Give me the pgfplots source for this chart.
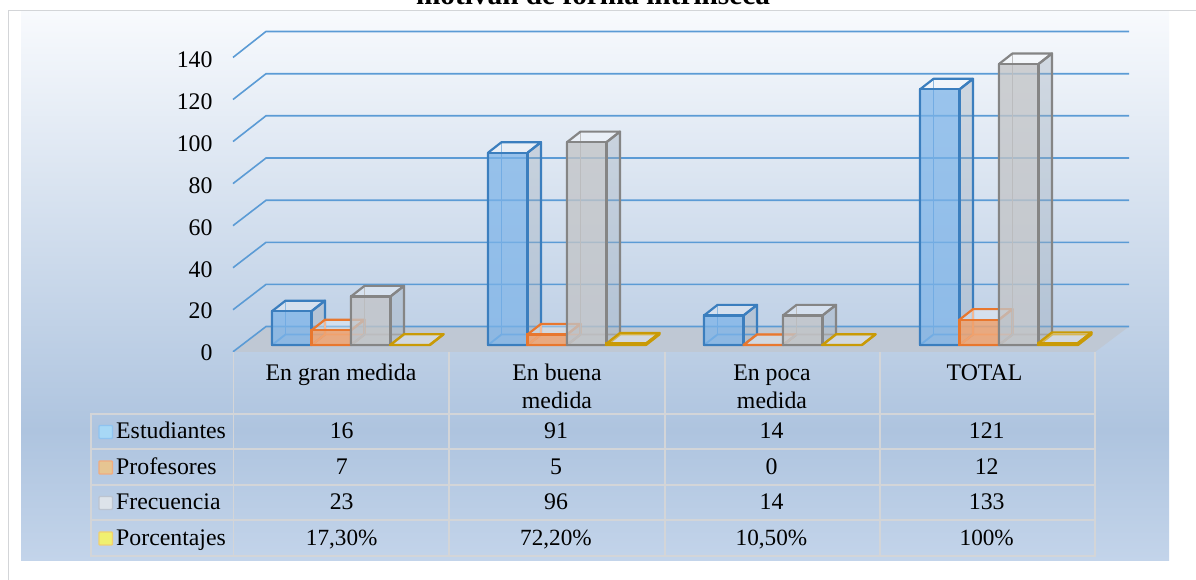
\documentclass[border=0pt]{standalone}
\usepackage{pgfplots}
\pgfplotsset{compat=1.18}
\usepackage{fontspec}
\setmainfont{Liberation Serif}
\definecolor{gridb}{HTML}{5B9BD5}
\definecolor{tline}{HTML}{D3D5D8}
\definecolor{bluee}{HTML}{3B7EBE}
\definecolor{blueb}{HTML}{5E9DD6}
\definecolor{bluef}{HTML}{61A4E4}
\definecolor{orane}{HTML}{E8772E}
\definecolor{oranb}{HTML}{EE9A66}
\definecolor{oranf}{HTML}{F09A60}
\definecolor{graye}{HTML}{858585}
\definecolor{grayb}{HTML}{A3A3A3}
\definecolor{grayf}{HTML}{BABCBF}
\definecolor{yele}{HTML}{C99A06}
\definecolor{yelf}{HTML}{CAD2DC}
\definecolor{floorc}{HTML}{BFC8D4}
\definecolor{sidec}{HTML}{A0AEBC}
\definecolor{bgbot}{HTML}{C3D4EA}
\definecolor{bgmid}{HTML}{AEC4DF}
\definecolor{bgtop}{HTML}{F8FAFD}
\pgfdeclareverticalshading{bgshade}{100bp}{color(0bp)=(bgbot); color(25bp)=(bgbot); color(36.9bp)=(bgmid); color(75bp)=(bgtop); color(100bp)=(bgtop)}
% 3D faces of a bar: x = left edge of front face, value, edge colour, back-edge colour
\newcommand{\BarBack}[4]{%
  \pgfmathsetmacro{\xb}{#1+39.5}\pgfmathsetmacro{\xc}{#1+13.5}\pgfmathsetmacro{\xd}{#1+53}%
  \pgfmathsetmacro{\vt}{#2+5}%
  \addplot[draw=none,fill=sidec,fill opacity=.38] coordinates {(\xb,0) (\xd,5) (\xd,\vt) (\xb,#2)} \closedcycle;
  \addplot[draw=#4,line width=1.9pt,line join=round] coordinates {(#1,0) (\xc,5) (\xd,5)};
  \addplot[draw=#4,line width=1.9pt] coordinates {(\xc,5) (\xc,\vt)};
  \addplot[draw=#3,fill=white,fill opacity=.3,draw opacity=1,line width=2.2pt,line join=round] coordinates {(#1,#2) (\xc,\vt) (\xd,\vt) (\xb,#2)} \closedcycle;
  \addplot[draw=#3,line width=2.2pt,line join=round] coordinates {(\xb,0) (\xd,5) (\xd,\vt) (\xb,#2)};
}
\newcommand{\tfont}{\fontsize{23.8}{26}\selectfont}
\newcommand{\pfont}{\fontsize{23.2}{26}\selectfont}
\newcommand{\TT}[3]{\node[anchor=base,inner sep=0pt,font=\tfont] at (#1,580-#2) {#3};}
\newcommand{\Row}[6]{\node[anchor=base west,inner sep=0pt,font=\tfont] at (116,580-#1) {#2};\TT{341.7}{#1}{#3}\TT{556}{#1}{#4}\TT{771.5}{#1}{#5}\TT{986.7}{#1}{#6}}
\begin{document}
\begin{tikzpicture}[x=1pt,y=1pt]
\path[use as bounding box] (0,0) rectangle (1196,580);
\clip (0,0) rectangle (1196,580);
\fill[white] (0,0) rectangle (1196,580);
\draw[tline,line width=1pt] (8.7,0) -- (8.7,569.3) -- (1196,569.3);
\path[shading=bgshade] (21,19.3) rectangle (1169,568.7);
% floor
\fill[floorc] (234,228) -- (266,253.5) -- (1129,253.5) -- (1095,228) -- cycle;
\begin{axis}[
  at={(0,0)},anchor=south west,
  scale only axis,width=1196pt,height=580pt,
  xmin=0,xmax=1196,ymin=-111.2,ymax=163.3,
  clip=false,
  axis line style={draw=none},
  major tick length=0pt,
  xtick=\empty,
  ytick={-3.31,16.5,36.3,56.1,75.9,95.7,115.5,135.3},
  yticklabels={0,20,40,60,80,100,120,140},
  y tick label style={anchor=east,xshift=216pt,yshift=-1pt,font=\fontsize{23.8}{26}\selectfont},
]
\addplot[draw=gridb,line width=1.6pt] coordinates {(233,-3.2) (266,8.75) (1129,8.75)};
\addplot[draw=gridb,line width=1.6pt] coordinates {(233,16.7) (266,28.7) (1129,28.7)};
\addplot[draw=gridb,line width=1.6pt] coordinates {(233,36.6) (266,48.6) (1129,48.6)};
\addplot[draw=gridb,line width=1.6pt] coordinates {(233,56.5) (266,68.5) (1129,68.5)};
\addplot[draw=gridb,line width=1.6pt] coordinates {(233,76.4) (266,88.5) (1129,88.5)};
\addplot[draw=gridb,line width=1.6pt] coordinates {(233,96.3) (266,108.5) (1129,108.5)};
\addplot[draw=gridb,line width=1.6pt] coordinates {(233,116.2) (266,128.4) (1129,128.4)};
\addplot[draw=gridb,line width=1.6pt] coordinates {(233,136.1) (266,148.4) (1129,148.4)};
% Estudiantes
\BarBack{272}{16}{bluee}{blueb}
\BarBack{488}{91}{bluee}{blueb}
\BarBack{704}{14}{bluee}{blueb}
\BarBack{920}{121}{bluee}{blueb}
\addplot[ybar,bar shift=0pt,bar width=39.5,draw=bluee,fill=bluef,fill opacity=.6,draw opacity=1,line width=2.2pt]
  coordinates {(291.75,16) (507.75,91) (723.75,14) (939.75,121)};
% Profesores
\BarBack{311.5}{7}{orane}{oranb}
\BarBack{527.5}{5}{orane}{oranb}
\BarBack{743.5}{0}{orane}{oranb}
\BarBack{959.5}{12}{orane}{oranb}
\addplot[ybar,bar shift=0pt,bar width=39.5,draw=orane,fill=oranf,fill opacity=.75,draw opacity=1,line width=2.2pt]
  coordinates {(331.25,7) (547.25,5) (763.25,0) (979.25,12)};
% Frecuencia
\BarBack{351}{23}{graye}{grayb}
\BarBack{567}{96}{graye}{grayb}
\BarBack{783}{14}{graye}{grayb}
\BarBack{999}{133}{graye}{grayb}
\addplot[ybar,bar shift=0pt,bar width=39.5,draw=graye,fill=grayf,fill opacity=.68,draw opacity=1,line width=2.2pt]
  coordinates {(370.75,23) (586.75,96) (802.75,14) (1018.75,133)};
% Porcentajes (fractions: 17,30% = 0.173 ...)
\BarBack{390.5}{0.173}{yele}{yele}
\BarBack{606.5}{0.722}{yele}{yele}
\BarBack{822.5}{0.105}{yele}{yele}
\BarBack{1038.5}{1}{yele}{yele}
\addplot[ybar,bar shift=0pt,bar width=39.5,draw=yele,fill=yelf,line width=2.2pt]
  coordinates {(410.25,0.173) (626.25,0.722) (842.25,0.105) (1058.25,1)};
\end{axis}
% table
\begin{scope}[tline,line width=1.7pt]
\draw (233.5,228) -- (233.5,24.3);
\draw (449,228) -- (449,24.3);
\draw (665,228) -- (665,24.3);
\draw (880,228) -- (880,24.3);
\draw (1095,228) -- (1095,24.3);
\draw (91,166) rectangle (1095,24.3);
\draw (91,131) -- (1095,131);
\draw (91,95.3) -- (1095,95.3);
\draw (91,59.7) -- (1095,59.7);
\end{scope}
\foreach \y/\f/\e in {148/A7D8F6/8FC3F0,112.5/E6C592/F0AC80,77/DDE3EA/BCC4D0,41.5/F0F070/F0D070}{
  \definecolor{kf}{HTML}{\f}\definecolor{ke}{HTML}{\e}
  \draw[ke,fill=kf,line width=1.4pt,rounded corners=0.8pt] (99,\y-6.5) rectangle (112.5,\y+6.5);
}
\node[anchor=base,inner sep=0pt,font=\fontsize{29.3}{32}\selectfont\bfseries] at (593,575) {motivan de forma intrínseca};
\TT{341}{381}{En gran medida}
\TT{557}{381}{En buena}
\TT{557}{409}{medida}
\TT{772}{381}{En poca}
\TT{772}{409}{medida}
\TT{984.5}{381}{TOTAL}
\Row{438.3}{Estudiantes}{16}{91}{14}{121}
\Row{474.3}{Profesores}{7}{5}{0}{12}
\Row{510}{Frecuencia}{23}{96}{14}{133}
\Row{546}{Porcentajes}{\pfont 17,30\%}{\pfont 72,20\%}{\pfont 10,50\%}{\pfont 100\%}
\end{tikzpicture}
\end{document}
